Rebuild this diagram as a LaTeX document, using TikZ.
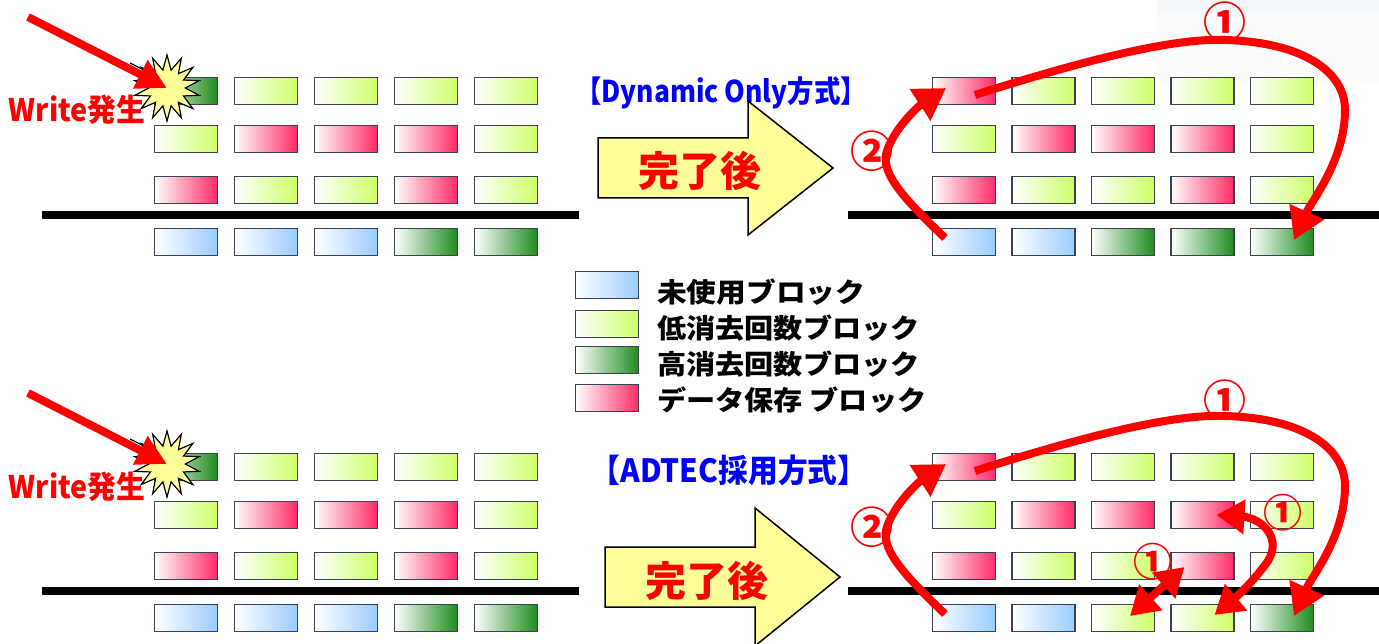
\documentclass[tikz,border=0pt]{standalone}
\usepackage{fontspec}
\usepackage{graphicx}
\usetikzlibrary{arrows.meta,shapes.geometric}
\newfontfamily\jpfont{Noto Sans CJK JP}
\definecolor{edgegray}{HTML}{3A4252}
\definecolor{unusedblue}{HTML}{99CCFF}
\definecolor{lowlime}{HTML}{CCFF66}
\definecolor{highgreen}{HTML}{1E8C1E}
\definecolor{datared}{HTML}{FF2B66}
\definecolor{burstyellow}{HTML}{FFFF99}
\definecolor{titleblue}{HTML}{0000FF}
\definecolor{arrowred}{HTML}{FF0000}
\definecolor{faintbg}{HTML}{F6F9FB}
\def\squeeze#1#2{\scalebox{#1}[1]{#2}}
\def\blockrow(#1,#2,#3)#4#5{\foreach \st [count=\i] in {#5} {\node[\st] (#4\i) at ({#1+#2*(\i-1)},#3) {};}}
\tikzset{
  blk/.style={draw=edgegray, line width=1.8pt, minimum width=63pt, minimum height=27pt, inner sep=0pt, left color=white},
  unused/.style={blk, right color=unusedblue},
  lowerase/.style={blk, right color=lowlime},
  higherase/.style={blk, right color=highgreen},
  datablk/.style={blk, right color=datared},
  floorline/.style={line width=7.5pt},
  flow/.style={draw=arrowred, line width=8pt, -{Triangle[length=31pt,width=36pt]}},
  twoway/.style={draw=arrowred, line width=8pt, {Triangle[length=28pt,width=33pt]}-{Triangle[length=28pt,width=33pt]}},
  writearrow/.style={draw=arrowred, line width=8pt, -{Triangle[length=30pt,width=30pt]}},
  burst/.style={star, star points=14, star point ratio=1.8, minimum size=66pt, inner sep=0pt, draw, fill=burstyellow, line width=1.2pt},
  numlbl/.style={font=\jpfont\bfseries\fontsize{43}{43}\selectfont, text=arrowred, inner sep=0pt},
  smallnum/.style={numlbl, font=\jpfont\bfseries\fontsize{39}{39}\selectfont},
  bigarrow/.style={draw, fill=burstyellow, line width=1.5pt, line join=miter},
  donelbl/.style={font=\jpfont\bfseries\fontsize{41}{41}\selectfont, text=arrowred, inner sep=0pt},
  titlelbl/.style={font=\jpfont\bfseries\fontsize{30}{30}\selectfont, text=titleblue, inner sep=0pt},
  writelbl/.style={font=\jpfont\bfseries\fontsize{31}{31}\selectfont, text=arrowred, inner sep=0pt},
  legendlbl/.style={font=\jpfont\bfseries\fontsize{27}{27}\selectfont, anchor=west, inner sep=0pt},
}

\begin{document}
\begin{tikzpicture}[x=1pt, y=-1pt]
		%%%%% START %%%%%
		\fill[white] (0,0) rectangle (1379,644);
		\useasboundingbox (0,0) rectangle (1379,644);
		\fill[faintbg] (1157,0) rectangle (1379,14);
		\fill[faintbg!40] (1157,14) rectangle (1379,85);
		
		% upper left
		\blockrow(186,80,91){ula}{higherase,lowerase,lowerase,lowerase,lowerase}
		\blockrow(186,80,139){ulb}{lowerase,datablk,datablk,datablk,lowerase}
		\blockrow(186,80,190){ulc}{datablk,lowerase,lowerase,datablk,lowerase}
		\blockrow(186,80,242){uld}{unused,unused,unused,higherase,higherase}
		\draw[floorline] (42,215) -- (579,215);
		
		\draw[line width=1.2pt] (130,63) -- (152,74);
		\node[burst] (ustar) at (167,88) {};
		\coordinate (uwrite) at (28,17);
		\draw[writearrow] (uwrite) -- (ustar.center);
		\node[writelbl] (uwritelbl) at (77,110) {\squeeze{0.93}{Write発生}};
		
		% upper title and arrow
		\node[titlelbl] (utitle) at (721,93) {\squeeze{0.88}{【Dynamic Only方式】}};
		\draw[bigarrow] (598,138) -- (748,138) -- (748,101) -- (833,168) -- (748,235) -- (748,198) -- (598,198) -- cycle;
		\node[donelbl] (udone) at (700,171) {完了後};
		
		% upper right
		\blockrow(964,79.5,91){ura}{datablk,lowerase,lowerase,lowerase,lowerase}
		\blockrow(964,79.5,139){urb}{lowerase,datablk,datablk,datablk,lowerase}
		\blockrow(964,79.5,190){urc}{datablk,lowerase,lowerase,datablk,lowerase}
		\blockrow(964,79.5,242){urd}{unused,unused,higherase,higherase,higherase}
		\draw[floorline] (848,215) -- (1379,215);
		
		\draw[flow] ([shift={(11,4)}]ura1.center) .. controls (1100,55) and (1180,38) .. (1225,40) .. controls (1300,42) and (1345,70) .. (1345,110) .. controls (1345,160) and (1312,200) .. ([shift={(12,-2)}]urd5.center);
		\draw[flow] ([shift={(-19,-4)}]urd1.center) .. controls (900,195) and (878,170) .. (888,148) .. controls (897,125) and (920,105) .. ([shift={(-18,-3)}]ura1.center);
		\node[numlbl] (uone) at (1225,22) {①};
		\node[numlbl] (utwo) at (872,151) {②};
		
		% legend
		\node[unused] (kunused) at (607,285) {};
		\node[lowerase] (klow) at (607,324) {};
		\node[higherase] (khigh) at (607,360) {};
		\node[datablk] (kdata) at (607,398) {};
		\node[legendlbl] (tunused) at (657,292) {\squeeze{1.1}{未使用ブロック}};
		\node[legendlbl] (tlow) at (657,328) {\squeeze{1.08}{低消去回数ブロック}};
		\node[legendlbl] (thigh) at (657,364) {\squeeze{1.08}{高消去回数ブロック}};
		\node[legendlbl] (tdata) at (657,400) {\squeeze{1.08}{データ保存 ブロック}};
		
		% lower left
		\blockrow(186,80,467){lla}{higherase,lowerase,lowerase,lowerase,lowerase}
		\blockrow(186,80,515){llb}{lowerase,datablk,datablk,datablk,lowerase}
		\blockrow(186,80,566){llc}{datablk,lowerase,lowerase,datablk,lowerase}
		\blockrow(186,80,618){lld}{unused,unused,unused,higherase,higherase}
		\draw[floorline] (42,591) -- (579,591);
		
		\draw[line width=1.2pt] (130,439) -- (152,450);
		\node[burst] (lstar) at (167,464) {};
		\coordinate (lwrite) at (28,393);
		\draw[writearrow] (lwrite) -- (lstar.center);
		\node[writelbl] (lwritelbl) at (77,487) {\squeeze{0.93}{Write発生}};
		
		% lower title and arrow
		\node[titlelbl, font=\jpfont\bfseries\fontsize{32}{32}\selectfont] (ltitle) at (729,470) {\squeeze{0.93}{【ADTEC採用方式】}};
		\draw[bigarrow] (605,547) -- (755,547) -- (755,508) -- (840,577) -- (755,646) -- (755,607) -- (605,607) -- cycle;
		\node[donelbl] (ldone) at (707,581) {完了後};
		
		% lower right
		\blockrow(964,79.5,467){lra}{datablk,lowerase,lowerase,lowerase,lowerase}
		\blockrow(964,79.5,515){lrb}{lowerase,datablk,datablk,datablk,lowerase}
		\blockrow(964,79.5,566){lrc}{datablk,lowerase,lowerase,datablk,lowerase}
		\blockrow(964,79.5,618){lrd}{unused,unused,lowerase,lowerase,higherase}
		\draw[floorline] (848,591) -- (1379,591);
		
		\draw[flow] ([shift={(11,4)}]lra1.center) .. controls (1100,431) and (1180,414) .. (1225,416) .. controls (1300,418) and (1345,446) .. (1345,486) .. controls (1345,536) and (1312,576) .. ([shift={(12,-2)}]lrd5.center);
		\draw[flow] ([shift={(-19,-4)}]lrd1.center) .. controls (900,571) and (878,546) .. (888,524) .. controls (897,501) and (920,481) .. ([shift={(-18,-3)}]lra1.center);
		\draw[twoway] ([shift={(14,0)}]lrb4.center) .. controls (1262,518) and (1285,540) .. (1265,565) .. controls (1250,585) and (1235,598) .. ([shift={(12,-3)}]lrd4.center);
		\draw[twoway] ([shift={(-18,1)}]lrc4.center) -- ([shift={(7,-2)}]lrd3.center);
		\node[numlbl] (lone) at (1225,400) {①};
		\node[numlbl] (ltwo) at (872,527) {②};
		\node[smallnum] (lonea) at (1283,513) {①};
		\node[smallnum] (loneb) at (1153,562) {①};
		%%%%% END %%%%%
\end{tikzpicture}
\end{document}
